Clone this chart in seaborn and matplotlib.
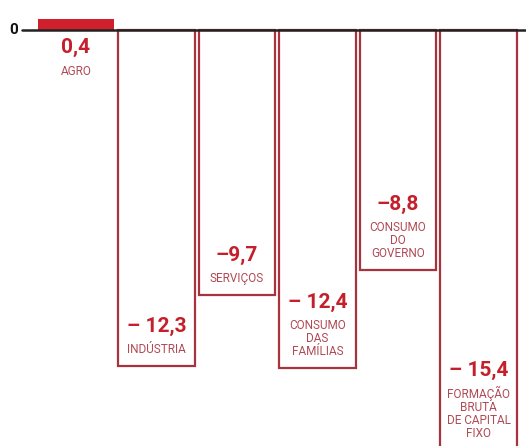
import matplotlib
matplotlib.use('Agg')
import matplotlib.pyplot as plt
import seaborn as sns

# data
categories = ['AGRO', 'INDÚSTRIA', 'SERVIÇOS', 'CONSUMO DAS FAMÍLIAS',
              'CONSUMO DO GOVERNO', 'FORMAÇÃO BRUTA DE CAPITAL FIXO']
values = [0.4, -12.3, -9.7, -12.4, -8.8, -15.4]
value_labels = ['0,4', '– 12,3', '–9,7', '– 12,4', '–8,8', '– 15,4']
name_labels = ['AGRO', 'INDÚSTRIA', 'SERVIÇOS', 'CONSUMO\nDAS\nFAMÍLIAS',
               'CONSUMO\nDO\nGOVERNO', 'FORMAÇÃO\nBRUTA\nDE CAPITAL\nFIXO']

RED = '#d0202e'
EDGE = '#a8323e'
VAL_COLOR = '#c4202c'
NAME_COLOR = '#b04a55'

sns.set_style('white')
plt.rcParams['font.family'] = ['Roboto', 'DejaVu Sans']

fig = plt.figure(figsize=(5.26, 4.46), dpi=100)
ax = fig.add_axes([0, 0, 1, 1])

face = {c: (RED if v > 0 else 'white') for c, v in zip(categories, values)}
sns.barplot(x=categories, y=values, hue=categories, palette=face,
            order=categories, width=0.945, saturation=1, legend=False,
            ax=ax, zorder=2)

for patch, v in zip(ax.patches, values):
    if v > 0:
        patch.set_edgecolor(RED)
        patch.set_linewidth(0)
    else:
        patch.set_edgecolor(EDGE)
        patch.set_linewidth(1.6)

ax.set_xlim(-0.944, 5.59)
ax.set_ylim(-15.24, 1.10)
ax.axis('off')

# zero line and label
ax.axhline(0, xmin=22 / 526, xmax=1, color='#222222', lw=1.8, zorder=3)
ax.annotate('0', xy=(0, 1 - 30 / 446), xycoords='axes fraction', xytext=(14, 0),
            textcoords='offset pixels', ha='center', va='center',
            fontsize=11, fontweight='bold', color='#111111')

for i, (v, vl, nl) in enumerate(zip(values, value_labels, name_labels)):
    if v > 0:
        ax.annotate(vl, xy=(i, 0), xytext=(0, -17), textcoords='offset pixels',
                    ha='center', va='center', fontsize=15, fontweight='bold',
                    color=VAL_COLOR)
        ax.annotate(nl, xy=(i, 0), xytext=(0, -41), textcoords='offset pixels',
                    ha='center', va='center', fontsize=8.5, color=NAME_COLOR)
    else:
        nlines = nl.count('\n') + 1
        ax.annotate(nl, xy=(i, v), xytext=(0, 10), textcoords='offset pixels',
                    ha='center', va='bottom', fontsize=8.5, color=NAME_COLOR,
                    linespacing=1.0, annotation_clip=False)
        ax.annotate(vl, xy=(i, v), xytext=(0, 10 + nlines * 13.5 + 6),
                    textcoords='offset pixels', ha='center', va='bottom',
                    fontsize=15, fontweight='bold', color=VAL_COLOR,
                    annotation_clip=False)

plt.savefig('out.png', dpi=100)
